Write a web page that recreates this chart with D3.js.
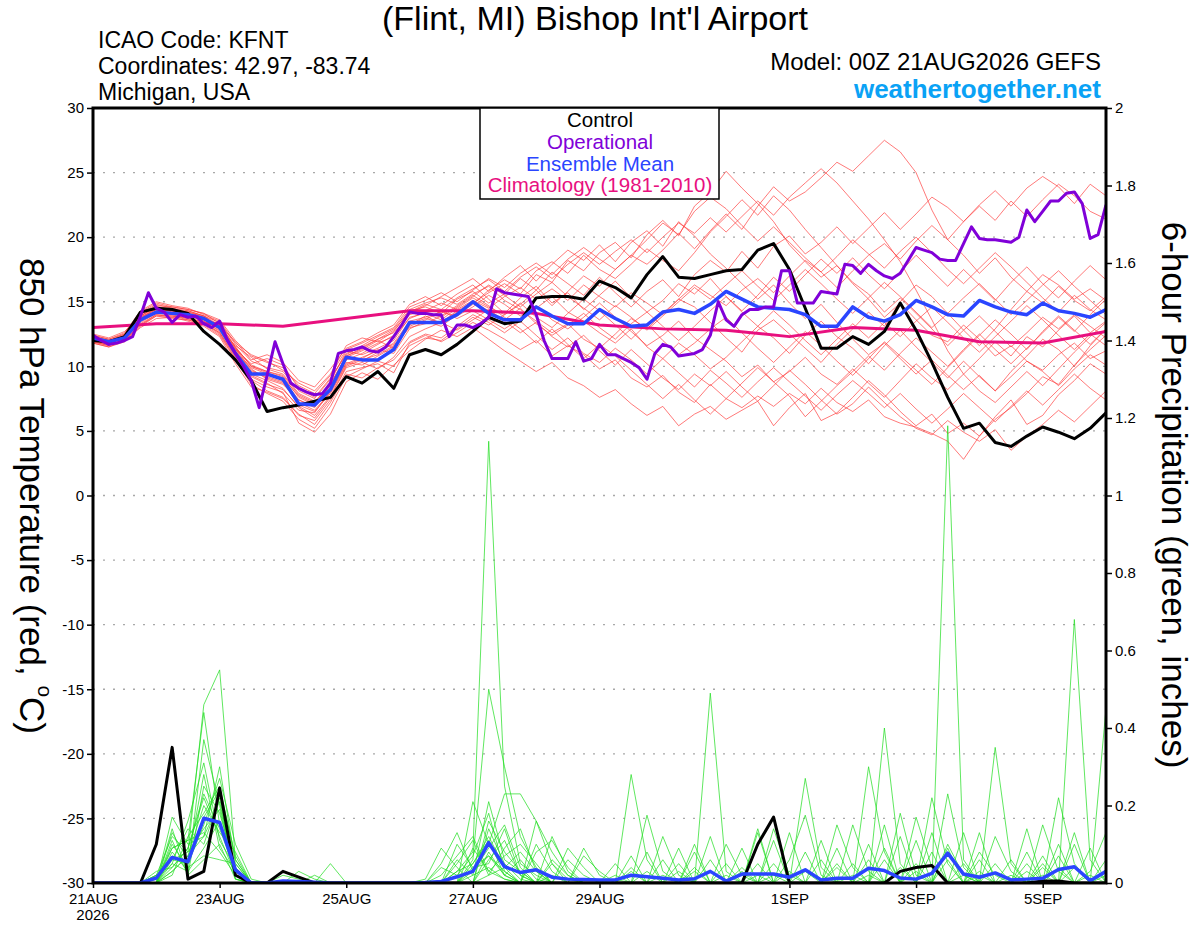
<!DOCTYPE html>
<html>
<head>
<meta charset="utf-8">
<script src="https://cdn.jsdelivr.net/npm/d3@7"></script>
<style>
body { margin: 0; background: #fff; }
svg { font-family: "Liberation Sans", Arial, Helvetica, sans-serif; }
</style>
</head>
<body>
<div id="chart"></div>
<script>
// time steps (hours) of each series, all starting 00Z 21AUG2026
var memberStep = 6, operStep = 3, climStep = 24;

var tempTicks = [-30, -25, -20, -15, -10, -5, 0, 5, 10, 15, 20, 25, 30];
var precipTicks = [0, 0.2, 0.4, 0.6, 0.8, 1, 1.2, 1.4, 1.6, 1.8, 2];
var dateTicks = ["2026-08-21", "2026-08-23", "2026-08-25", "2026-08-27", "2026-08-29", "2026-09-01", "2026-09-03", "2026-09-05"];

var legendLabels = ["Control", "Operational", "Ensemble Mean", "Climatology (1981-2010)"];
var legendColors = ["#000000", "#8000d8", "#2a45ff", "#e8107f"];

// 850 hPa temperature (C)
var tempControl = [12.0,11.9,12.3,14.2,14.5,14.4,14.1,12.7, 11.7,10.5,8.9,6.5,6.8,7.0,7.3,7.6, 9.2,8.7,9.6,8.3,10.9,11.3,10.9,11.7, 12.7,13.8,13.3,13.5,15.3,15.4,15.4,15.2, 16.6,16.1,15.3,17.1,18.5,16.9,16.8,17.1, 17.4,17.5,19.0,19.5,17.5,14.5,11.4,11.4, 12.3,11.7,12.7,14.9,12.8,10.3,7.6,5.2, 5.6,4.1,3.8,4.6,5.3,4.9,4.4,5.2, 6.4];

var tempMean = [12.2,11.9,12.2,13.6,14.2,14.1,14.0,13.7, 13.0,11.0,9.4,9.4,9.0,7.1,7.0,8.2, 10.7,10.5,10.5,11.3,13.4,13.4,13.4,14.0, 15.0,14.1,13.6,13.6,14.6,13.9,13.3,13.3, 14.4,13.7,13.1,13.2,14.2,14.4,14.1,14.8, 15.8,15.2,14.6,14.5,14.4,14.0,13.1,13.1, 14.6,13.8,13.5,14.0,15.1,14.6,14.0,13.9, 15.1,14.6,14.2,14.0,14.9,14.3,14.1,13.8, 14.4];

var tempOper = [12.4,12.0,11.7,11.8,12.0,12.3,13.9,15.7, 14.5,14.2,13.4,14.0,13.8,13.9,13.3,13.0, 13.5,12.0,11.0,10.0,8.9,6.8,9.3,11.9, 10.2,8.7,8.3,8.0,7.8,7.9,8.7,11.0, 11.2,11.3,11.5,11.2,11.1,11.5,12.3,13.2, 14.2,14.1,14.1,14.0,14.0,12.3,13.2,13.2, 13.0,13.3,13.8,16.0,15.7,15.6,15.5,15.4, 14.0,12.0,10.6,10.6,10.6,11.9,10.4,10.6, 11.7,10.9,10.9,10.6,10.3,9.9,9.0,11.0, 11.7,11.5,10.8,10.9,11.0,11.3,12.4,15.0, 13.6,13.1,14.0,14.4,14.4,14.6,14.6,17.4, 17.4,14.9,14.9,14.9,15.8,15.7,15.6,17.9, 17.8,17.2,17.9,17.4,17.0,16.8,17.2,18.2, 19.2,19.0,18.8,18.3,18.2,18.2,19.5,20.8, 19.9,19.8,19.8,19.7,19.6,20.0,22.1,21.2, 22.0,22.8,22.8,23.4,23.5,22.6,19.9,20.2, 22.5];

var tempClim = [13.0,13.3,13.3,13.1,13.7,14.3,14.3,14.1,13.2,12.9,12.8,12.3,13.0,12.8,11.9,11.8,12.7];

var tempMembers = [
  [12.1,11.8,12.4,13.9,14.6,14.2,14.3,13.9, 13.2,11.4,9.8,9.0,8.6,7.4,6.9,8.8, 11.2,10.9,11.4,12.0,13.8,14.1,13.6,14.5, 15.3,14.6,14.0,14.8,15.9,14.7,15.8,17.0, 16.2,17.5,18.6,17.9,19.0,20.3,19.1,20.5, 21.8,20.6,22.4,23.9,22.8,23.5,24.6,25.8, 25.1,26.3,27.5,26.6,25.0,22.1,19.8,18.6, 17.2,18.4,16.9,15.8,17.1,16.3,15.2,16.0, 15.1],
  [11.9,11.6,12.1,13.2,14.0,13.9,13.6,13.3, 12.5,10.6,8.9,8.1,7.6,6.2,5.8,7.4, 9.6,9.9,10.2,9.5,11.8,12.4,11.9,12.6, 13.4,12.8,12.1,11.3,12.0,10.8,11.6,10.9, 9.8,10.5,9.1,8.4,9.3,8.0,7.2,8.6, 7.5,6.8,7.7,6.9,7.9,7.1,8.3,7.2, 6.5,7.4,6.1,5.6,5.3,4.8,4.2,2.8, 4.6,5.9,6.8,7.9,9.2,8.6,10.1,11.3, 12.4],
  [12.3,12.0,12.5,14.1,14.8,14.5,14.1,13.6, 12.9,11.3,10.2,10.6,10.1,8.3,7.6,9.1, 10.9,11.6,12.3,12.9,14.4,14.9,15.3,14.8, 15.6,16.2,15.1,14.4,13.5,12.6,13.3,12.1, 11.4,12.5,13.7,12.9,14.1,15.2,14.6,13.4, 12.2,11.1,12.8,13.6,12.5,11.4,10.3,11.7, 12.9,14.2,13.1,15.0,16.3,15.4,14.1,12.8, 11.6,12.9,14.4,15.8,14.9,16.2,15.1,14.3, 15.4],
  [12.0,11.7,12.2,13.5,14.3,14.4,14.2,13.8, 13.1,10.9,9.3,8.7,7.9,6.6,6.4,8.1, 10.3,10.1,10.8,11.5,13.2,13.9,13.3,14.2, 14.9,15.7,16.4,15.6,17.1,16.5,18.2,17.4, 18.8,19.6,18.4,20.2,21.3,20.1,22.4,23.5, 25.1,23.8,22.6,21.2,19.4,18.1,16.9,17.8, 16.4,15.2,13.8,14.9,13.6,12.4,11.9,13.2, 12.1,10.8,11.6,10.4,9.7,10.9,11.8,10.6, 11.2],
  [11.8,11.5,12.0,13.0,13.7,13.8,13.9,13.5, 12.7,11.0,9.0,8.4,8.0,5.6,4.9,6.3, 8.8,9.5,9.0,10.1,11.2,12.1,12.8,12.3, 13.0,12.1,11.2,10.4,9.6,10.3,9.1,8.5, 7.6,8.2,7.1,6.2,6.9,5.4,6.3,6.9, 5.9,6.6,7.3,5.4,6.8,7.9,5.8,6.4, 7.6,8.9,7.8,6.5,5.4,6.3,4.8,5.6, 4.6,6.1,7.4,5.5,6.2,7.8,8.9,10.2, 9.4],
  [12.4,12.1,12.6,14.3,15.0,14.7,14.5,14.0, 13.5,11.8,10.9,10.4,9.7,8.7,8.1,9.4, 11.6,12.2,11.9,12.7,14.3,14.6,14.1,15.2, 15.8,14.9,15.6,16.8,15.9,17.3,16.4,15.5, 16.9,15.7,14.6,15.8,16.7,15.4,17.1,18.2, 17.3,18.9,17.6,19.3,20.1,18.7,19.6,20.8, 19.5,20.7,21.9,20.6,21.8,23.1,22.3,21.2, 22.5,23.6,22.4,23.8,24.7,23.9,22.6,24.1, 23.2],
  [12.2,11.9,12.3,13.8,14.4,14.0,13.7,13.4, 12.8,11.6,10.7,9.8,9.4,7.9,7.3,8.5, 10.6,10.4,11.1,11.8,13.5,13.8,14.2,13.9, 14.6,15.5,14.8,13.9,14.7,13.6,12.9,13.8, 14.9,13.8,12.7,11.6,12.4,13.5,12.2,11.3, 10.4,9.2,10.1,8.8,9.6,10.7,9.4,8.6, 9.8,8.7,7.6,8.9,10.2,9.1,8.2,9.4, 10.6,11.9,10.8,12.3,11.5,12.8,13.9,12.6, 13.5],
  [12.0,11.8,12.2,13.7,14.5,14.3,14.0,13.6, 13.0,11.2,9.6,9.2,8.8,7.0,6.5,7.9, 10.1,10.6,11.3,11.0,12.9,13.5,13.1,14.0, 14.8,15.9,16.7,16.0,17.4,18.1,17.2,18.6, 17.5,16.8,17.9,19.1,18.2,17.4,18.8,20.4, 21.6,22.9,21.7,23.2,22.1,20.6,19.2,17.8, 16.5,15.6,14.2,15.3,14.1,12.9,11.6,12.8, 13.9,12.7,11.5,12.6,13.8,12.9,14.0,13.1, 12.2],
  [12.5,12.2,12.7,14.0,14.7,14.6,14.4,14.1, 13.3,11.5,10.0,9.5,9.1,7.7,7.1,8.6, 10.8,11.3,12.0,11.4,13.1,13.6,14.3,13.7, 14.3,13.6,12.9,13.7,14.5,15.4,14.2,13.5, 12.6,11.8,12.9,11.5,10.6,11.8,10.9,9.8, 10.7,11.9,13.1,12.2,11.0,12.4,13.5,12.3, 11.4,10.2,11.6,12.8,11.5,10.3,9.1,10.4, 9.2,8.1,9.6,10.8,12.1,11.3,10.0,11.6, 12.9],
  [11.9,11.6,12.1,13.4,14.1,14.0,13.9,13.7, 13.2,11.9,10.5,10.9,10.3,8.9,8.4,9.8, 11.4,11.9,12.6,13.2,14.8,15.4,14.7,15.6, 16.3,15.2,14.1,15.3,16.2,14.9,15.7,14.4, 15.5,16.6,15.3,14.2,15.1,16.4,15.6,16.8, 15.4,14.3,15.5,16.9,15.8,17.1,18.3,17.2, 18.4,17.1,16.0,17.3,18.6,17.4,16.2,17.5, 16.3,15.1,16.5,17.7,16.4,15.3,16.6,17.8, 16.7],
  [12.1,11.8,12.3,13.6,14.2,14.1,13.8,13.4, 12.6,10.8,9.4,8.9,8.3,6.8,6.0,7.6, 9.9,10.3,9.8,10.7,12.3,12.9,13.4,12.8, 13.6,14.4,13.5,12.6,13.4,12.3,11.5,12.4, 11.2,10.1,11.3,10.2,9.1,8.2,9.4,8.5, 9.6,8.4,7.3,8.5,9.7,8.6,7.4,6.3, 7.1,8.4,7.2,6.1,5.2,4.7,5.8,4.9, 4.2,5.1,3.5,4.6,5.5,6.6,5.7,6.9, 8.1],
  [12.3,12.0,12.4,13.9,14.6,14.5,14.3,13.9, 13.4,11.7,10.4,9.9,9.6,8.1,7.5,9.0, 11.0,11.5,12.1,12.6,14.0,14.3,14.9,14.4, 15.1,14.5,15.4,16.1,15.2,16.0,15.1,16.3, 15.4,14.6,15.7,14.9,14.0,15.2,16.3,15.5, 14.7,15.9,16.8,15.7,17.0,18.2,17.3,16.1, 17.4,18.6,19.5,18.3,19.7,20.9,19.8,21.2, 22.4,21.3,22.8,21.6,22.9,24.1,23.2,22.0, 21.4],
  [12.2,11.9,12.2,13.6,14.3,14.2,14.1,13.8, 13.1,11.1,9.9,9.4,9.0,7.4,6.8,8.3, 10.5,11.0,11.7,12.4,14.1,14.7,15.4,16.1, 16.8,15.8,16.9,17.8,16.6,17.9,19.0,18.2, 19.4,18.1,19.6,20.5,19.3,21.2,20.1,18.7, 17.6,16.4,15.2,16.3,14.9,13.7,14.8,13.4, 12.1,10.9,11.8,10.6,9.4,10.5,9.3,8.2, 9.3,8.1,9.2,10.4,9.6,8.5,9.8,10.9, 10.1],
  [11.8,11.5,11.9,13.1,13.9,13.7,13.6,13.2, 12.4,10.5,8.6,7.9,7.3,5.9,5.2,6.9, 9.2,9.8,10.4,10.0,11.6,12.2,12.0,12.9, 13.8,13.2,14.0,14.9,13.8,13.0,14.1,15.2, 14.3,13.2,12.1,13.3,12.0,10.9,11.8,12.9, 13.8,12.6,11.4,10.3,11.5,12.7,11.6,10.4, 9.3,10.6,11.9,10.8,9.7,8.6,9.9,11.2, 12.4,13.6,12.5,11.3,12.7,13.9,12.8,11.7, 12.9],
  [12.4,12.1,12.5,14.2,14.9,14.6,14.4,14.1, 13.6,12.0,10.8,10.3,9.9,8.5,7.9,9.3, 11.3,11.8,12.4,13.0,14.6,15.1,15.7,15.0, 15.9,16.8,16.1,17.2,18.0,17.1,18.3,19.2, 18.3,17.5,18.6,19.8,21.1,20.2,22.0,23.1, 22.2,20.9,19.7,20.8,19.6,18.4,17.3,18.5, 19.8,18.7,17.6,18.9,20.0,18.8,17.5,16.4, 17.6,18.8,17.7,16.5,15.3,14.2,15.5,14.4, 13.6],
  [12.0,11.7,12.0,13.3,14.0,13.8,13.5,13.1, 12.3,10.2,8.4,8.0,7.5,6.3,5.5,7.2, 9.4,9.1,9.9,10.5,11.9,12.5,12.2,13.1, 14.0,13.4,12.6,13.5,12.4,11.3,12.2,11.0, 10.3,11.4,10.5,9.4,10.6,9.5,8.4,9.7, 8.7,7.6,8.8,9.9,8.8,7.7,6.6,7.8, 8.9,7.9,6.8,7.9,6.7,5.6,6.7,7.9, 6.8,5.7,6.9,8.1,7.0,8.2,9.4,8.3, 7.4],
  [12.3,12.0,12.3,13.8,14.5,14.4,14.2,13.9, 13.0,11.4,10.1,9.6,9.3,7.8,7.2,8.7, 10.7,11.2,11.8,12.3,13.7,14.2,13.8,14.6, 15.4,16.3,15.5,14.6,15.6,16.5,15.4,14.5, 13.6,14.7,13.8,12.8,13.9,15.0,16.1,15.2, 16.3,17.4,16.2,15.1,16.3,17.5,16.4,15.2, 14.1,15.3,16.5,15.4,14.2,13.0,14.1,15.3, 16.4,15.2,14.0,15.1,16.3,17.4,16.2,15.1, 14.0],
  [12.1,11.9,12.3,13.7,14.4,14.3,14.0,13.5, 12.9,11.3,9.7,9.1,8.7,7.2,6.6,8.0, 10.2,10.7,11.2,11.7,13.3,13.7,13.4,14.3, 15.0,14.3,13.6,14.5,13.3,12.4,13.2,14.1, 13.0,12.1,13.3,14.2,13.1,12.0,13.1,14.3, 15.4,14.2,13.1,14.3,13.2,12.0,10.9,12.1, 13.3,12.2,13.4,12.3,13.5,14.6,13.4,12.2, 11.1,12.3,13.5,14.7,13.6,12.4,11.3,12.5, 11.6],
  [12.2,11.9,12.4,13.9,14.6,14.4,14.1,13.7, 13.2,11.5,10.0,9.6,9.2,7.6,7.0,8.5, 10.8,11.4,12.1,12.8,14.2,14.8,14.4,15.3, 16.0,16.7,15.8,16.9,17.7,16.8,17.9,18.8, 17.9,18.9,19.8,18.8,20.0,21.1,20.3,21.5, 20.4,21.6,22.8,21.7,23.1,24.2,25.3,24.2, 22.8,21.4,19.8,18.1,15.9,13.6,11.2,9.4, 8.1,7.2,8.4,9.6,8.5,9.8,11.1,12.3, 13.4],
  [11.9,11.7,12.0,13.2,13.9,13.9,13.7,13.3, 12.6,10.7,9.2,8.6,8.2,6.9,6.2,7.7, 10.0,10.5,10.9,11.6,13.0,13.3,13.9,14.7, 15.5,14.7,13.8,12.9,11.8,12.9,11.7,10.6, 11.7,10.8,9.7,8.6,7.5,8.6,7.4,6.3, 7.5,8.7,9.9,8.8,7.7,6.1,7.3,8.5, 9.6,10.8,9.7,11.0,12.2,11.1,10.0,11.3, 12.5,11.3,10.2,11.4,12.6,13.8,12.7,14.0, 15.2]
];

// 6-hour precipitation (inches)
var precipControl = [0,0,0,0,0.10,0.35,0.01,0.03, 0.245,0.02,0,0,0.03,0.015,0,0, 0,0,0,0,0,0,0,0, 0,0,0,0,0,0,0,0, 0,0,0,0,0,0,0,0, 0,0,0.10,0.17,0,0,0,0, 0,0,0,0.03,0.04,0.045,0,0, 0,0,0,0,0.005,0.005,0,0, 0];

var precipMean = [0,0,0,0,0.013,0.066,0.055,0.167, 0.156,0.034,0,0,0.005,0.004,0.002,0, 0,0,0,0,0,0.001,0.004,0.016, 0.03,0.104,0.042,0.027,0.034,0.015,0.01,0.009, 0.008,0.008,0.02,0.016,0.012,0.008,0.011,0.03, 0.005,0.023,0.023,0.023,0.015,0.034,0.008,0.012, 0.012,0.038,0.032,0.013,0.01,0.025,0.077,0.023, 0.015,0.026,0.008,0.01,0.012,0.035,0.042,0.006, 0.03];

var precipMembers = [
  [0,0,0,0,0.02,0.12,0.08,0.46, 0.55,0.06,0,0,0,0,0,0, 0,0,0,0,0,0,0,0.03, 0.08,1.14,0.25,0.05,0.02,0,0,0, 0,0,0.28,0.06,0,0,0,0, 0,0.04,0,0,0,0.03,0,0, 0,0,0,0,0.05,0,0.10,0.02, 0,0,0,0,0,0.04,0,0, 0],
  [0,0,0,0,0,0.05,0.03,0.37, 0.20,0.02,0,0,0,0,0,0, 0,0,0,0,0,0,0,0, 0.06,0.50,0.30,0.12,0.04,0,0,0, 0,0,0,0,0,0,0,0.49, 0.03,0,0,0,0,0,0,0, 0,0.02,0,0,0,0,0,0, 0,0.35,0.05,0,0,0,0.68,0.06, 0],
  [0,0,0,0,0,0.17,0.10,0.12, 0.30,0.05,0,0,0,0.03,0.01,0, 0,0,0,0,0,0,0.05,0.13, 0.03,0.07,0.02,0,0,0.06,0.02,0, 0,0,0,0.175,0.03,0,0,0, 0,0,0,0.14,0.02,0,0,0, 0,0,0.40,0.05,0,0,0,0, 0,0,0,0,0.07,0,0,0, 0],
  [0,0,0,0,0.01,0.09,0.11,0.44, 0.15,0.03,0,0,0,0,0,0, 0,0,0,0,0,0,0,0, 0.21,0.10,0.23,0.23,0.16,0.05,0,0, 0,0,0,0,0.12,0.02,0,0, 0,0,0,0,0,0.27,0.04,0, 0,0,0,0,0,0,1.18,0.06, 0,0,0,0,0,0,0,0, 0.45],
  [0,0,0,0,0,0.03,0.07,0.20, 0.13,0.08,0,0,0,0,0,0, 0,0,0,0,0,0,0.02,0.07, 0.12,0.03,0.01,0,0.10,0.03,0,0, 0,0.05,0,0,0,0,0.08,0, 0,0,0.13,0,0,0,0,0.15, 0.04,0,0,0,0,0,0,0, 0.13,0,0,0.03,0,0,0,0, 0],
  [0,0,0,0,0.02,0.06,0.14,0.10, 0.22,0.01,0,0,0,0,0,0, 0,0,0,0,0,0,0,0, 0,0.16,0.08,0.03,0,0,0.09,0.04, 0,0,0,0,0,0,0,0, 0.10,0.02,0,0,0,0,0,0, 0,0.30,0.08,0,0,0.22,0.05,0, 0,0,0,0,0,0,0,0.03, 0.13],
  [0,0,0,0,0,0.11,0.02,0.25, 0.18,0.04,0,0,0,0,0,0, 0,0,0,0,0,0,0,0.10, 0.04,0.05,0.14,0.02,0,0,0,0, 0,0,0,0,0,0.09,0,0, 0,0,0,0,0.06,0.175,0.02,0, 0,0,0,0,0.17,0.04,0,0, 0,0,0.02,0,0,0.22,0.05,0, 0],
  [0,0,0,0,0,0.07,0.05,0.15, 0.27,0.10,0.01,0,0,0,0,0.05, 0,0,0,0,0,0,0,0, 0.05,0.12,0.04,0,0.16,0.08,0.02,0, 0,0,0.04,0,0,0,0,0.12, 0,0,0,0.11,0,0,0,0, 0,0,0,0.18,0.02,0,0,0, 0.03,0,0,0,0.15,0.03,0,0, 0],
  [0,0,0,0,0.03,0.04,0.09,0.22, 0.12,0.02,0,0,0,0,0,0, 0,0,0,0,0,0.01,0.09,0.04, 0,0.08,0.02,0.06,0.01,0,0,0, 0,0.02,0,0,0.06,0,0,0, 0,0,0.14,0,0,0,0,0, 0.15,0.03,0,0,0,0,0,0.13, 0,0,0,0.05,0,0,0,0, 0.06],
  [0,0,0,0,0,0.13,0.06,0.28, 0.09,0.03,0,0,0,0,0,0, 0,0,0,0,0,0,0,0, 0.02,0.21,0.06,0.03,0,0.12,0.03,0, 0,0,0,0,0,0,0.04,0, 0,0.09,0,0,0,0,0,0.05, 0,0,0,0,0,0.08,0,0, 0,0.12,0.03,0,0,0,0.10,0, 0],
  [0,0,0,0,0,0.02,0.12,0.18, 0.25,0.06,0,0,0,0,0,0, 0,0,0,0,0,0,0,0.05, 0.11,0.02,0.09,0.14,0.03,0,0,0, 0,0,0,0.03,0,0,0,0, 0.05,0,0,0,0,0,0.11,0, 0,0,0.06,0,0,0,0.23,0.04, 0,0,0,0,0.02,0,0,0, 0],
  [0,0,0,0,0,0.08,0.03,0.09, 0.16,0.01,0,0,0.02,0.01,0,0, 0,0,0,0,0,0,0,0, 0,0.06,0.11,0.02,0,0,0,0.07, 0.03,0,0.07,0,0,0.03,0,0, 0,0,0,0,0.13,0,0,0, 0,0.06,0,0,0,0,0,0, 0.08,0.02,0,0,0,0,0,0.09, 0],
  [0,0,0,0,0.01,0.05,0.16,0.31, 0.11,0.04,0,0,0,0,0,0, 0,0,0,0,0,0,0.04,0.02, 0.07,0.18,0.03,0,0,0,0,0, 0,0,0,0,0,0,0,0.06, 0,0,0,0.02,0,0,0,0, 0.05,0,0,0,0.11,0,0.06,0, 0,0,0,0.14,0,0,0.04,0, 0],
  [0,0,0,0,0,0.06,0.08,0.14, 0.19,0.02,0,0,0,0,0,0, 0,0,0,0,0,0,0,0, 0.03,0.09,0.15,0.04,0,0.02,0,0, 0,0,0,0,0.02,0,0,0, 0,0,0.05,0,0,0.08,0,0, 0,0,0,0.12,0,0,0,0, 0.02,0,0,0,0,0.07,0,0, 0.03],
  [0,0,0,0,0,0.10,0.04,0.07, 0.06,0.05,0,0,0,0,0,0, 0,0,0,0,0,0,0,0.06, 0.02,0.04,0.01,0,0.08,0.11,0.04,0, 0,0.01,0,0,0,0,0.03,0, 0,0,0,0,0,0,0.06,0, 0,0,0.15,0,0,0,0,0.05, 0,0,0,0,0.04,0,0,0, 0],
  [0,0,0,0,0,0.04,0.09,0.23, 0.14,0.03,0,0,0,0,0,0, 0,0,0,0,0,0,0,0, 0,0.14,0.05,0.01,0,0,0,0, 0,0,0,0,0,0.05,0,0, 0,0,0,0,0.03,0,0,0, 0.02,0,0,0,0,0.13,0,0, 0,0,0.06,0,0,0,0,0.02, 0],
  [0,0,0,0,0,0.03,0.07,0.12, 0.21,0.02,0,0,0,0,0.02,0, 0,0,0,0,0,0,0,0, 0.09,0.03,0.07,0.10,0.05,0,0,0, 0,0,0,0,0,0,0,0, 0.02,0,0,0,0,0,0,0.09, 0,0,0,0.04,0,0,0,0, 0,0.05,0,0,0,0,0.13,0, 0],
  [0,0,0,0,0,0.14,0.02,0.06, 0.10,0.01,0,0,0,0,0,0, 0,0,0,0,0,0,0,0.03, 0.05,0.11,0.02,0,0,0.05,0.01,0, 0,0,0,0.08,0,0,0,0, 0,0.03,0,0,0,0,0,0, 0,0.10,0,0,0,0,0,0.02, 0,0,0,0.08,0,0,0,0, 0.02],
  [0,0,0,0,0.02,0.06,0.05,0.17, 0.24,0.07,0,0,0,0,0,0, 0,0,0,0,0,0,0,0, 0,0.02,0.04,0.08,0.03,0,0,0.09, 0.02,0,0,0,0,0,0.10,0, 0,0,0,0.05,0,0,0,0, 0,0,0,0,0.03,0,0.09,0, 0,0,0,0,0.05,0,0,0, 0],
  [0,0,0,0,0,0.09,0.11,0.13, 0.08,0.02,0,0,0,0,0,0, 0,0,0,0,0,0,0,0, 0.04,0.07,0.03,0,0,0,0.06,0.02, 0,0,0.03,0,0,0,0,0, 0,0,0.02,0,0,0,0,0.04, 0,0,0.09,0,0,0,0,0, 0.06,0,0,0,0,0.10,0,0, 0]
];

// plot frame in page pixels
var plotL = 93, plotR = 1106, plotT = 108, plotB = 883;
var start = Date.UTC(2026, 7, 21);
var hourMs = 3600 * 1000;
var parseDay = d3.utcParse("%Y-%m-%d");
var fmtDay = d3.utcFormat("%-d%b");

var x = d3.scaleUtc()
    .domain([new Date(start), new Date(start + 384 * hourMs)])
    .range([plotL, plotR]);
var yT = d3.scaleLinear().domain([-30, 30]).range([plotB, plotT]);
var yP = d3.scaleLinear().domain([0, 2]).range([plotB, plotT]);

function stepLine(step, yScale) {
    return d3.line()
        .x(function(d, i) { return x(new Date(start + i * step * hourMs)); })
        .y(function(d) { return yScale(d); });
}

var svg = d3.select("#chart").append("svg")
    .attr("width", 1200)
    .attr("height", 927);

svg.append("defs").append("clipPath").attr("id", "plotClip")
    .append("rect")
    .attr("x", plotL).attr("y", plotT)
    .attr("width", plotR - plotL).attr("height", plotB - plotT);

// dotted grid at the temperature ticks
svg.append("g").selectAll("line")
    .data(tempTicks.filter(function(t) { return t > -30 && t < 30; }))
    .enter().append("line")
    .attr("x1", plotL).attr("x2", plotR)
    .attr("y1", function(d) { return yT(d); })
    .attr("y2", function(d) { return yT(d); })
    .attr("stroke", "#a8a8a8")
    .attr("stroke-width", 1.3)
    .attr("stroke-dasharray", "2,8");

var plot = svg.append("g").attr("clip-path", "url(#plotClip)");

plot.selectAll(".tmem")
    .data(tempMembers)
    .enter().append("path")
    .attr("class", "tmem")
    .attr("d", stepLine(memberStep, yT))
    .attr("fill", "none")
    .attr("stroke", "#ff3a3a")
    .attr("stroke-opacity", 0.85)
    .attr("stroke-width", 0.8);

plot.selectAll(".pmem")
    .data(precipMembers)
    .enter().append("path")
    .attr("class", "pmem")
    .attr("d", stepLine(memberStep, yP))
    .attr("fill", "none")
    .attr("stroke", "#22dd22")
    .attr("stroke-opacity", 0.9)
    .attr("stroke-width", 0.8);

function bold(data, step, yScale, color, width) {
    plot.append("path")
        .datum(data)
        .attr("d", stepLine(step, yScale))
        .attr("fill", "none")
        .attr("stroke", color)
        .attr("stroke-width", width)
        .attr("stroke-linejoin", "round");
}

bold(tempClim, climStep, yT, legendColors[3], 3);
bold(tempControl, memberStep, yT, legendColors[0], 3);
bold(precipControl, memberStep, yP, legendColors[0], 3);
bold(tempMean, memberStep, yT, legendColors[2], 3.5);
bold(precipMean, memberStep, yP, legendColors[2], 3.5);
bold(tempOper, operStep, yT, legendColors[1], 3);

// axes
function styleAxis(g) {
    g.select(".domain").remove();
    g.attr("font-size", 15).attr("font-family", null);
    g.selectAll(".tick line").attr("stroke-width", 1.5);
}

svg.append("g")
    .attr("transform", "translate(" + plotL + ",0)")
    .call(d3.axisLeft(yT).tickValues(tempTicks).tickSize(6).tickPadding(3)
        .tickFormat(function(d) { return String(d); }))
    .call(styleAxis);

svg.append("g")
    .attr("transform", "translate(" + plotR + ",0)")
    .call(d3.axisRight(yP).tickValues(precipTicks).tickSize(6).tickPadding(3)
        .tickFormat(function(d) { return String(d); }))
    .call(styleAxis);

svg.append("g")
    .attr("transform", "translate(0," + plotB + ")")
    .call(d3.axisBottom(x).tickValues(dateTicks.map(parseDay)).tickSize(5).tickPadding(5)
        .tickFormat(function(d) { return fmtDay(d).toUpperCase(); }))
    .call(styleAxis);

svg.append("text")
    .attr("x", x(parseDay(dateTicks[0])))
    .attr("y", 920)
    .attr("text-anchor", "middle")
    .attr("font-size", 15)
    .text("2026");

// frame
svg.append("rect")
    .attr("x", plotL).attr("y", plotT)
    .attr("width", plotR - plotL).attr("height", plotB - plotT)
    .attr("fill", "none")
    .attr("stroke", "#000")
    .attr("stroke-width", 3);

// legend box
var legend = svg.append("g");
legend.append("rect")
    .attr("x", 480).attr("y", plotT)
    .attr("width", 239).attr("height", 91)
    .attr("fill", "#fff")
    .attr("stroke", "#000")
    .attr("stroke-width", 1.5);
legend.selectAll("text")
    .data(legendLabels)
    .enter().append("text")
    .attr("x", 600)
    .attr("y", function(d, i) { return 127 + i * 21.8; })
    .attr("text-anchor", "middle")
    .attr("font-size", 20.5)
    .attr("fill", function(d, i) { return legendColors[i]; })
    .text(function(d) { return d; });

// titles and info
svg.append("text")
    .attr("x", 595).attr("y", 30)
    .attr("text-anchor", "middle")
    .attr("font-size", 34)
    .text("(Flint, MI) Bishop Int'l Airport");

var info = ["ICAO Code: KFNT", "Coordinates: 42.97, -83.74", "Michigan, USA"];
svg.selectAll(".info")
    .data(info)
    .enter().append("text")
    .attr("class", "info")
    .attr("x", 98)
    .attr("y", function(d, i) { return 48 + i * 26; })
    .attr("font-size", 23)
    .text(function(d) { return d; });

svg.append("text")
    .attr("x", 1101).attr("y", 70)
    .attr("text-anchor", "end")
    .attr("font-size", 24)
    .text("Model: 00Z 21AUG2026 GEFS");

svg.append("text")
    .attr("x", 1101).attr("y", 98)
    .attr("text-anchor", "end")
    .attr("font-size", 26)
    .attr("font-weight", "bold")
    .attr("fill", "#0aa2f5")
    .text("weathertogether.net");

var ltitle = svg.append("text")
    .attr("transform", "translate(33,496) rotate(90)")
    .attr("text-anchor", "middle")
    .attr("dominant-baseline", "central")
    .attr("font-size", 35);
ltitle.append("tspan").text("850 hPa Temperature (red, ");
ltitle.append("tspan").attr("font-size", 21).attr("dy", -13).text("o");
ltitle.append("tspan").attr("dy", 13).text("C)");

svg.append("text")
    .attr("transform", "translate(1174,495) rotate(90)")
    .attr("text-anchor", "middle")
    .attr("dominant-baseline", "central")
    .attr("font-size", 35)
    .text("6-hour Precipitation (green, inches)");
</script>
</body>
</html>
